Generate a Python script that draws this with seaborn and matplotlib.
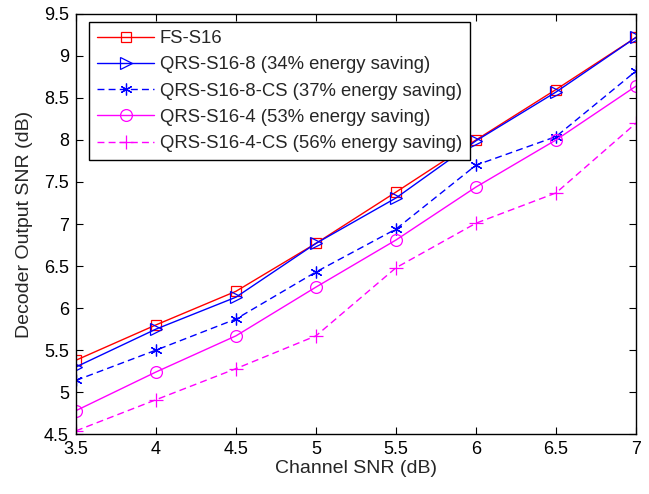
import matplotlib
matplotlib.use("Agg")
import matplotlib.pyplot as plt
import seaborn as sns
import numpy as np

# ========== Data ==========
channel_snr = [3.5, 4.0, 4.5, 5.0, 5.5, 6.0, 6.5, 7.0]

fs_s16 = [5.38, 5.80, 6.20, 6.77, 7.38, 8.00, 8.60, 9.22]
qrs_s16_8 = [5.30, 5.75, 6.13, 6.77, 7.31, 7.99, 8.57, 9.22]
qrs_s16_8_cs = [5.14, 5.50, 5.87, 6.43, 6.94, 7.70, 8.04, 8.82]
qrs_s16_4 = [4.78, 5.24, 5.67, 6.25, 6.81, 7.44, 8.00, 8.64]
qrs_s16_4_cs = [4.54, 4.91, 5.28, 5.67, 6.48, 7.01, 7.37, 8.20]

labels = [
    "FS-S16",
    "QRS-S16-8 (34% energy saving)",
    "QRS-S16-8-CS (37% energy saving)",
    "QRS-S16-4 (53% energy saving)",
    "QRS-S16-4-CS (56% energy saving)",
]
x_ticks = [3.5, 4, 4.5, 5, 5.5, 6, 6.5, 7]
x_tick_labels = ["3.5", "4", "4.5", "5", "5.5", "6", "6.5", "7"]
y_ticks = [4.5, 5, 5.5, 6, 6.5, 7, 7.5, 8, 8.5, 9, 9.5]
y_tick_labels = ["4.5", "5", "5.5", "6", "6.5", "7", "7.5", "8", "8.5", "9", "9.5"]

# ========== Style ==========
sns.set_style("ticks")
plt.rcParams["font.family"] = ["Liberation Sans", "DejaVu Sans"]

fig = plt.figure(figsize=(6.49, 4.94), dpi=100)
ax = fig.add_axes([0.117, 0.121, 0.863, 0.851])

asterisk = (6, 2, 0)
series = [
    (fs_s16, "red", "-", "s", 7.5),
    (qrs_s16_8, "blue", "-", ">", 8.5),
    (qrs_s16_8_cs, "blue", "--", asterisk, 8.5),
    (qrs_s16_4, "magenta", "-", "o", 8.5),
    (qrs_s16_4_cs, "magenta", "--", "+", 9.5),
]

for (vals, color, ls, mk, ms), lab in zip(series, labels):
    sns.lineplot(x=channel_snr, y=vals, ax=ax, color=color,
                 marker=mk, markersize=ms, markerfacecolor="none",
                 markeredgecolor=color, markeredgewidth=0.9, linewidth=1.0,
                 label=lab)

for line, s in zip(ax.lines, series):
    if s[2] == "--":
        line.set_dashes((5, 3))

ax.set_xlim(3.5, 7)
ax.set_ylim(4.5, 9.5)
ax.set_xticks(x_ticks)
ax.set_xticklabels(x_tick_labels)
ax.set_yticks(y_ticks)
ax.set_yticklabels(y_tick_labels)
ax.tick_params(direction="in", top=True, right=True, labelsize=13, length=5,
               width=0.8, colors="black", pad=5)
for s in ax.spines.values():
    s.set_visible(True)
    s.set_linewidth(1.0)
    s.set_color("black")

ax.set_xlabel("Channel SNR (dB)", fontsize=14, labelpad=1)
ax.set_ylabel("Decoder Output SNR (dB)", fontsize=14, labelpad=8)

leg = ax.legend(loc="upper left", bbox_to_anchor=(0.023, 0.981), fontsize=13.3,
                handlelength=3.1, fancybox=False, framealpha=1, edgecolor="black",
                borderpad=0.45, labelspacing=0.5, handletextpad=0.3, borderaxespad=0)
leg.get_frame().set_linewidth(1.0)

plt.savefig("out.png", dpi=100)
plt.close()
